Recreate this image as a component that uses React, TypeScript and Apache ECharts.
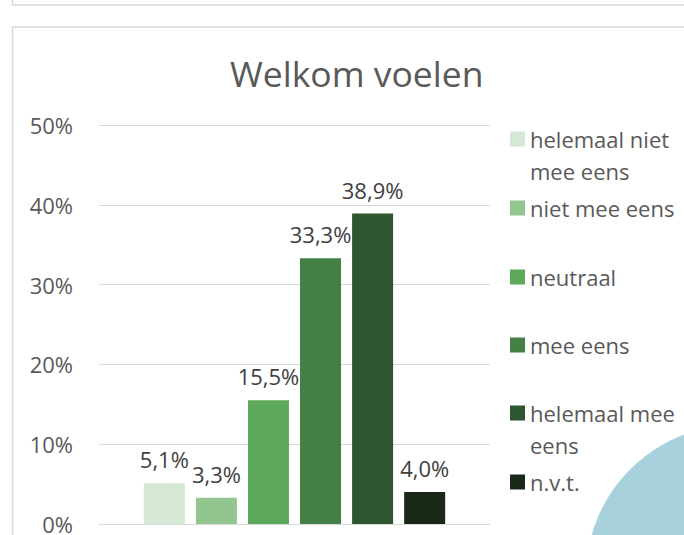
import React, { useEffect, useRef } from "react";
import * as echarts from "echarts";

const seriesNames = [
  "helemaal niet mee eens",
  "niet mee eens",
  "neutraal",
  "mee eens",
  "helemaal mee eens",
  "n.v.t.",
];
const values = [5.1, 3.3, 15.5, 33.3, 38.9, 4.0];
const colors = ["#d5e8d4", "#93c58f", "#5ea85b", "#447f45", "#2d552e", "#182918"];
const legendLabels = ["\nhelemaal niet\nmee eens", "niet mee eens", "neutraal", "mee eens", "\nhelemaal mee\neens", "n.v.t."];
const legendTops = [91, 192, 261, 329, 365, 466];
const yTicks = [0, 10, 20, 30, 40, 50];
const title = "Welkom voelen";

const FONT = "'Open Sans', 'Segoe UI', sans-serif";

export default function App() {
  const ref = useRef<HTMLDivElement>(null);
  useEffect(() => {
    if (!ref.current) return;
    const chart = echarts.init(ref.current, null, { renderer: "svg" });
    const option: any = {
      animation: false,
      backgroundColor: "#ffffff",
      title: {
        text: title,
        left: 225,
        top: 50,
        textStyle: { fontFamily: FONT, fontSize: 35.5, fontWeight: "normal", color: "#595959" },
      },
      grid: { left: 99, right: 194, top: 125, bottom: 9, containLabel: false },
      xAxis: {
        type: "category",
        data: [""],
        axisLine: { show: true, lineStyle: { color: "#d9d9d9", width: 1 } },
        axisTick: { show: false },
        axisLabel: { show: false },
      },
      yAxis: {
        type: "value",
        min: yTicks[0],
        max: yTicks[yTicks.length - 1],
        interval: 10,
        axisLine: { show: false },
        axisTick: { show: false },
        axisLabel: {
          formatter: "{value}%",
          margin: 26,
          fontFamily: FONT,
          fontSize: 22,
          color: "#595959",
        },
        splitLine: { lineStyle: { color: "#d9d9d9", width: 1 } },
      },
      legend: seriesNames.map((name, i) => ({
        data: [{ name, icon: "rect" }],
        left: 510,
        top: legendTops[i],
        orient: "vertical",
        padding: 0,
        itemWidth: 15,
        itemHeight: 15,
        selectedMode: false,
        formatter: () => legendLabels[i],
        textStyle: {
          fontFamily: FONT,
          fontSize: 22,
          lineHeight: 32,
          color: "#595959",
        },
      })),
      series: seriesNames.map((name, i) => ({
        type: "bar",
        name,
        data: [values[i]],
        barWidth: 41,
        barGap: "27%",
        itemStyle: { color: colors[i] },
        label: {
          show: true,
          position: "top",
          distance: 13,
          fontFamily: FONT,
          fontSize: 22,
          color: "#404040",
          formatter: (p: any) => p.value.toFixed(1).replace(".", ",") + "%",
        },
      })),
      graphic: [
        {
          type: "rect",
          z: -10,
          shape: { x: 12.5, y: -30, width: 700, height: 35 },
          style: { fill: "none", stroke: "#d9d9d9", lineWidth: 1.5 },
        },
        {
          type: "rect",
          z: -10,
          shape: { x: 12.5, y: 27, width: 700, height: 600 },
          style: { fill: "none", stroke: "#d9d9d9", lineWidth: 1.5 },
        },
        {
          type: "circle",
          z: -5,
          shape: { cx: 737, cy: 576, r: 151 },
          style: { fill: "#a6d1dd" },
        },
      ],
    };
    chart.setOption(option);
    return () => chart.dispose();
  }, []);
  return (
    <div
      ref={ref}
      style={{ position: "absolute", left: 0, top: 0, width: 684, height: 535 }}
    />
  );
}
